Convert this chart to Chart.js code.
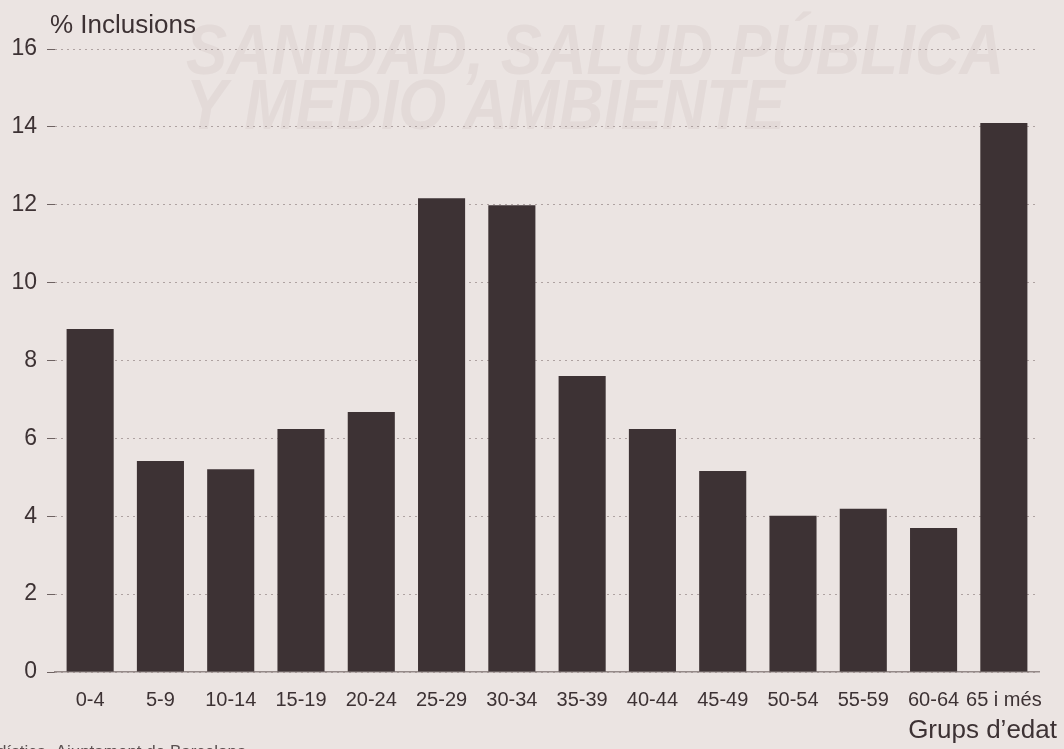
<!DOCTYPE html>
<html>
<head>
<meta charset="utf-8">
<script src="https://cdn.jsdelivr.net/npm/chart.js@4.4.1/dist/chart.umd.min.js"></script>
<style>
  html, body { margin: 0; padding: 0; background: #ebe4e2; }
  #wrap { width: 1064px; height: 749px; position: relative; }
</style>
</head>
<body>
<div id="wrap"><canvas id="barChart"></canvas></div>
<script>
let ageGroups = ['0-4', '5-9', '10-14', '15-19', '20-24', '25-29', '30-34', '35-39',
    '40-44', '45-49', '50-54', '55-59', '60-64', '65 i més'];
let inclusions = [8.81, 5.42, 5.21, 6.24, 6.68, 12.17, 11.99, 7.6, 6.24, 5.16, 4.01, 4.19, 3.7, 14.1];
let yTicks = [0, 2, 4, 6, 8, 10, 12, 14, 16];

let yTitle = '% Inclusions';
let xTitle = 'Grups d\u2019edat';
let sourceNote = 'dística. Ajuntament de Barcelona';
let bleedLines = ['SANIDAD, SALUD PÚBLICA', 'Y MEDIO AMBIENTE'];

let inkColor = '#3d3234';
let fontFamily = '"Liberation Sans", Arial, sans-serif';

const paperPlugin = {
    id: 'paper',
    beforeDraw(chart) {
        const ctx = chart.ctx;
        ctx.save();
        ctx.fillStyle = '#ebe4e2';
        ctx.fillRect(0, 0, chart.width, chart.height);
        // faint print-through from the other side of the page
        ctx.fillStyle = '#e3dad8';
        ctx.font = 'italic bold 70px ' + fontFamily;
        ctx.textBaseline = 'alphabetic';
        ctx.translate(186, 0);
        ctx.scale(0.88, 1);
        ctx.fillText(bleedLines[0], 0, 74);
        ctx.fillText(bleedLines[1], 0, 129);
        ctx.restore();
    },
    afterDraw(chart) {
        const ctx = chart.ctx;
        ctx.save();
        ctx.fillStyle = inkColor;
        ctx.font = '26px ' + fontFamily;
        ctx.textBaseline = 'alphabetic';
        ctx.textAlign = 'left';
        ctx.fillText(yTitle, 50, 33);
        ctx.textAlign = 'right';
        ctx.fillText(xTitle, 1057, 738);
        ctx.textAlign = 'left';
        ctx.font = '17px ' + fontFamily;
        ctx.fillStyle = '#5a5050';
        ctx.fillText(sourceNote, -3, 757);
        ctx.restore();
    }
};

const myChart = new Chart(
        document.getElementById('barChart'),
        {
            type: 'bar',
            data: {
                labels: ageGroups,
                datasets: [
                    {
                        label: yTitle,
                        data: inclusions,
                        backgroundColor: inkColor,
                        borderWidth: 0,
                        categoryPercentage: 1.0,
                        barPercentage: 0.67
                    }
                ]
            },
            options: {
                responsive: true,
                maintainAspectRatio: false,
                animation: false,
                layout: {
                    padding: { top: 49, right: 25, bottom: 0, left: 0 }
                },
                plugins: {
                    legend: { display: false },
                    tooltip: { enabled: false }
                },
                scales: {
                    x: {
                        offset: true,
                        grid: { display: false },
                        border: { display: true, color: '#958a89', width: 1.5 },
                        ticks: {
                            color: inkColor,
                            font: { family: fontFamily, size: 20 },
                            padding: 8,
                            maxRotation: 0,
                            autoSkip: false
                        },
                        afterFit: function (axis) { axis.height = 77; }
                    },
                    y: {
                        min: 0,
                        max: 16,
                        afterBuildTicks: function (axis) {
                            axis.ticks = yTicks.map(v => ({ value: v }));
                        },
                        border: { display: false, dash: [2, 4] },
                        grid: {
                            color: '#aea2a1',
                            lineWidth: 1,
                            drawTicks: true,
                            tickLength: 8,
                            tickColor: '#6e6262',
                            tickBorderDash: []
                        },
                        ticks: {
                            color: inkColor,
                            font: { family: fontFamily, size: 23 },
                            padding: 10
                        },
                        afterFit: function (axis) { axis.width = 55; }
                    }
                }
            },
            plugins: [paperPlugin]
        }
);
</script>
</body>
</html>
